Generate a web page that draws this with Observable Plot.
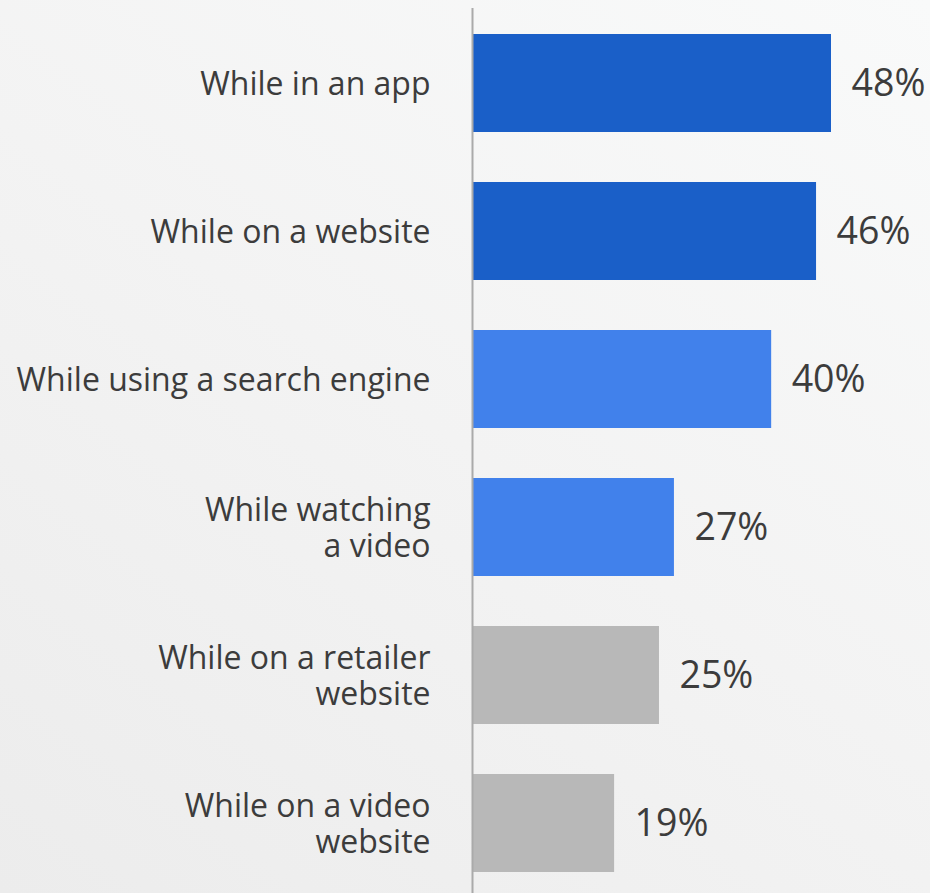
<!DOCTYPE html>
<html>
<head>
<meta charset="utf-8">
<script src="https://cdn.jsdelivr.net/npm/d3@7"></script>
<script src="https://cdn.jsdelivr.net/npm/@observablehq/plot@0.6"></script>
<style>
  html, body { margin: 0; padding: 0; }
  body {
    width: 930px; height: 893px; overflow: hidden;
    background: linear-gradient(35deg, #ececec 0%, #f3f3f3 50%, #f9fafa 100%);
    font-family: "Open Sans", sans-serif;
  }
</style>
</head>
<body>
<div id="chart"></div>
<script>
const categories = [
  "While in an app",
  "While on a website",
  "While using a search engine",
  "While watching\na video",
  "While on a retailer\nwebsite",
  "While on a video\nwebsite"
];
const values = [48, 46, 40, 27, 25, 19];
const groups = ["dark", "dark", "light", "light", "gray", "gray"];
const groupColors = { dark: "#1A5FC8", light: "#4181EB", gray: "#B8B8B8" };

const data = categories.map((c, i) => ({ category: c, value: values[i], group: groups[i] }));

const chart = Plot.plot({
  width: 930,
  height: 893,
  marginLeft: 472,
  marginRight: 99,
  marginTop: 8,
  marginBottom: 0,
  style: { background: "transparent", fontFamily: "Open Sans, sans-serif", color: "#3c3c3c" },
  x: { domain: [0, 48], axis: null },
  y: { domain: categories, range: [8, 897], paddingInner: 50 / 148, paddingOuter: 25 / 148, label: null },
  color: { domain: Object.keys(groupColors), range: Object.values(groupColors) },
  marks: [
    Plot.barX(data, { x: "value", y: "category", fill: "group" }),
    Plot.ruleX([0], { stroke: "#aaaaaa", strokeWidth: 2 }),
    Plot.text(data, {
      x: "value", y: "category", text: d => d.value + "%",
      textAnchor: "start", dx: 20, fontSize: 37.5, fill: "#3c3c3c"
    }),
    Plot.axisY({
      tickSize: 0, tickPadding: 42, fontSize: 32, fill: "#3c3c3c",
      lineHeight: 1.14, label: null
    })
  ]
});
document.getElementById("chart").appendChild(chart);
</script>
</body>
</html>
